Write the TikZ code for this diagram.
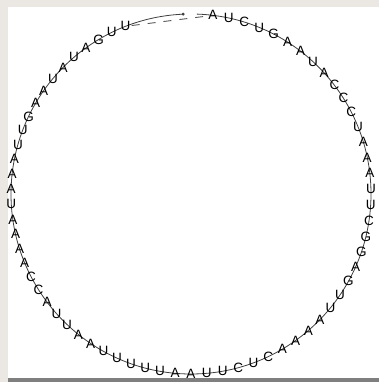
\documentclass[tikz,border=0pt]{standalone}
\usepackage{fontspec}
\setsansfont{Liberation Sans}
\usetikzlibrary{calc}

\definecolor{pagebg}{HTML}{EBE7E3}
\definecolor{pagebar}{HTML}{7F7F7F}

\begin{document}
\begin{tikzpicture}[x=1pt,y=-1pt,
  base/.style={font=\fontsize{13.5}{14}\sffamily, inner sep=1pt},
  backbone/.style={draw=black!75, line width=0.8pt},
  gap/.style={draw=black!65, line width=0.9pt, dash pattern=on 8pt off 8pt}]
  % page
  \fill[pagebg] (0,0) rectangle (379,382);
  \fill[white] (8,7) rectangle (379,378);
  \fill[pagebar] (8,378) rectangle (379,382);
  \coordinate (c) at (191,194);
  % backbone
  \draw[backbone] ($(c)+(-88.1:180)$) arc[start angle=-88.1, end angle=267.5, radius=180] coordinate (tail);
  \fill[black!75] (tail) circle (1.6);
  % bases
  \foreach \b [count=\i] in {A,U,C,U,G,A,A,U,A,C,
                             C,C,U,A,A,A,U,U,C,G,
                             G,A,G,U,U,A,A,A,A,C,
                             U,C,U,U,A,A,U,U,U,U,
                             U,A,A,U,U,A,C,C,A,A,
                             A,A,U,A,A,A,U,U,G,A,
                             A,U,A,U,A,G,U,U} {
    \pgfmathsetmacro\a{(\i<=35 ? 7+(\i-1)*5.09 : 180.3+(\i-35)*4.8)-90}
    \node[base] (n\i) at ($(c)+(\a:180)$) {\b};
  }
  \draw[gap] (n68) -- (n1);
\end{tikzpicture}
\end{document}
